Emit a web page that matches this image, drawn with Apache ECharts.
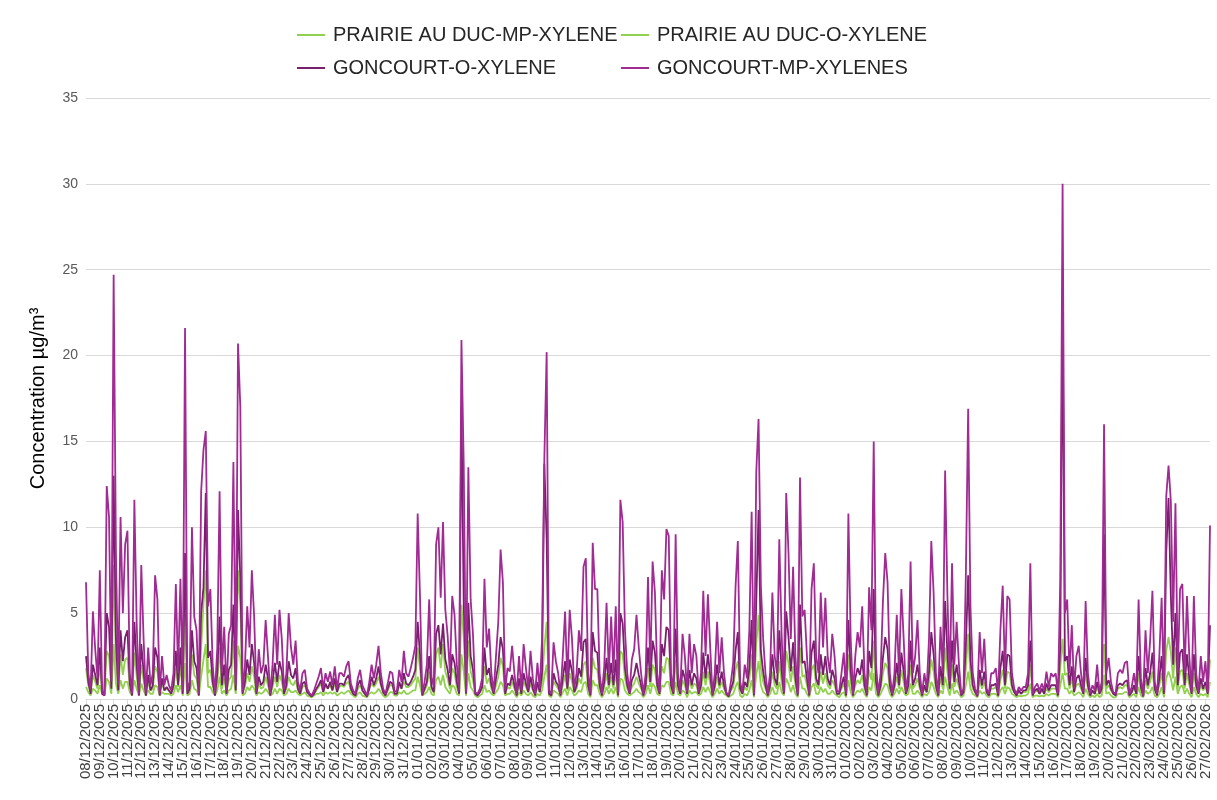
<!DOCTYPE html>
<html>
<head>
<meta charset="utf-8">
<script src="https://cdn.jsdelivr.net/npm/echarts@6/dist/echarts.min.js"></script>
<style>
  html, body { margin: 0; padding: 0; background: #ffffff; }
  #chart { width: 1217px; height: 800px; }
</style>
</head>
<body>
<div id="chart"></div>
<script>
// Daily tick labels (one label per day, six readings per day, every 4 hours)
const days = [
  '08/12/2025','09/12/2025','10/12/2025','11/12/2025','12/12/2025','13/12/2025','14/12/2025',
  '15/12/2025','16/12/2025','17/12/2025','18/12/2025','19/12/2025','20/12/2025','21/12/2025',
  '22/12/2025','23/12/2025','24/12/2025','25/12/2025','26/12/2025','27/12/2025','28/12/2025',
  '29/12/2025','30/12/2025','31/12/2025',
  '01/01/2026','02/01/2026','03/01/2026','04/01/2026','05/01/2026','06/01/2026','07/01/2026',
  '08/01/2026','09/01/2026','10/01/2026','11/01/2026','12/01/2026','13/01/2026','14/01/2026',
  '15/01/2026','16/01/2026','17/01/2026','18/01/2026','19/01/2026','20/01/2026','21/01/2026',
  '22/01/2026','23/01/2026','24/01/2026','25/01/2026','26/01/2026','27/01/2026','28/01/2026',
  '29/01/2026','30/01/2026','31/01/2026',
  '01/02/2026','02/02/2026','03/02/2026','04/02/2026','05/02/2026','06/02/2026','07/02/2026',
  '08/02/2026','09/02/2026','10/02/2026','11/02/2026','12/02/2026','13/02/2026','14/02/2026',
  '15/02/2026','16/02/2026','17/02/2026','18/02/2026','19/02/2026','20/02/2026','21/02/2026',
  '22/02/2026','23/02/2026','24/02/2026','25/02/2026','26/02/2026','27/02/2026'
];
const hours = ['00:00','04:00','08:00','12:00','16:00','20:00'];

const seriesNames = [
  'PRAIRIE AU DUC-MP-XYLENE',
  'PRAIRIE AU DUC-O-XYLENE',
  'GONCOURT-O-XYLENE',
  'GONCOURT-MP-XYLENES'
];

// Concentrations in µg/m3, one row per day
const prairieMP = [
  1.8,0.8,0.4,1.4,1.0,0.6, 1.9,0.5,0.3,2.8,2.5,0.6, 7.8,2.2,0.5,2.6,1.4,2.3, 2.4,0.7,0.3,2.7,1.3,0.3,
  2.0,1.1,0.3,1.0,0.5,0.6, 1.9,1.6,0.3,0.9,0.5,0.6, 0.5,0.4,0.6,1.8,0.7,1.9, 0.4,5.0,0.4,0.5,2.6,1.4,
  1.2,0.3,3.0,5.5,7.5,1.5, 1.7,0.8,0.3,1.0,3.0,0.6, 1.2,0.4,1.1,1.3,3.4,0.5, 7.5,5.6,0.4,0.7,1.5,1.0,
  1.9,1.3,0.3,0.9,0.6,0.7, 1.3,0.8,0.3,0.7,1.3,0.7, 1.4,1.0,0.4,0.6,1.3,0.9, 0.8,1.1,0.5,0.3,0.7,0.8,
  0.4,0.3,0.2,0.3,0.5,0.7, 0.9,0.4,0.8,0.6,0.8,0.5, 0.9,0.4,0.7,0.8,0.7,0.9, 1.0,0.5,0.3,0.2,0.6,0.8,
  0.5,0.3,0.2,0.6,0.9,0.7, 0.9,1.3,0.8,0.4,0.2,0.5, 0.8,0.8,0.3,0.3,0.8,0.6, 1.0,0.7,0.7,0.8,1.0,1.2,
  3.0,1.8,0.3,0.5,0.8,1.6, 0.6,0.4,2.6,3.0,1.8,3.2, 1.6,1.2,0.6,1.8,1.5,0.7, 0.3,5.5,3.6,0.3,3.4,1.6,
  1.1,0.3,0.3,0.4,0.6,1.9, 0.9,1.2,0.6,0.3,0.8,1.3, 2.4,1.9,0.3,0.7,0.6,1.0, 0.6,0.3,0.8,0.3,1.0,0.7,
  0.4,0.9,0.5,0.3,0.7,0.4, 1.0,3.0,4.5,0.3,0.3,1.0, 0.8,0.6,0.3,0.8,1.4,0.5, 1.5,1.0,0.4,0.6,1.2,0.9,
  2.0,2.2,0.6,0.3,2.4,1.8, 1.7,0.6,0.3,0.7,1.5,0.6, 1.3,0.6,1.5,0.3,2.8,2.6, 1.2,0.6,0.3,0.7,0.9,1.3,
  0.9,0.6,0.3,0.6,1.8,0.7, 2.0,1.7,0.6,0.3,1.9,1.5, 2.4,2.3,0.6,0.3,2.3,0.6, 0.3,1.1,0.8,0.3,1.1,0.6,
  0.9,0.8,0.3,0.6,1.6,0.8, 1.6,0.9,0.3,0.6,1.3,0.6, 1.0,0.6,0.3,0.2,0.5,0.7, 1.7,2.2,0.5,0.3,0.7,0.5,
  1.1,2.6,0.3,3.2,4.9,1.8, 1.0,0.6,0.3,0.6,1.6,0.8, 0.6,2.2,1.0,0.3,2.8,2.1, 1.0,1.9,0.8,0.3,3.0,1.3,
  1.4,0.8,0.3,1.7,2.0,0.8, 0.6,1.6,0.9,1.5,0.8,0.6, 1.1,0.8,0.3,0.3,0.6,0.9, 0.3,2.6,1.0,0.3,0.8,1.1,
  0.9,1.4,0.6,0.3,1.7,1.1, 3.4,0.7,0.3,0.6,1.5,2.1, 1.8,0.6,0.3,0.6,1.3,0.6, 1.7,1.0,0.3,0.6,2.0,0.6,
  0.8,1.2,0.6,0.3,0.6,0.4, 1.0,2.3,1.6,0.6,0.3,1.2, 0.6,3.0,1.6,0.5,2.0,0.7, 1.2,0.7,0.3,0.4,1.8,3.8,
  1.4,0.6,0.4,0.2,1.1,0.6, 1.0,0.4,0.3,0.6,0.6,0.7, 0.3,1.1,1.7,0.6,1.6,1.5, 0.6,0.4,0.3,0.4,0.3,0.4,
  0.4,0.6,2.0,0.3,0.4,0.5, 0.3,0.5,0.3,0.6,0.4,0.6, 0.6,0.6,0.3,1.8,3.5,1.4, 1.5,0.6,1.2,0.4,0.8,0.9,
  0.6,0.3,1.5,0.6,0.3,0.4, 0.3,0.7,0.3,0.5,3.2,0.6, 0.8,0.5,0.3,0.3,0.6,0.7, 0.6,0.8,0.8,0.3,0.4,0.6,
  0.3,1.5,0.5,0.2,1.1,0.6, 1.0,1.6,0.5,0.3,0.8,1.5, 0.3,2.8,3.6,2.7,1.2,3.0, 0.6,1.6,1.7,0.6,1.5,0.8,
  0.3,1.5,0.6,0.3,0.8,0.5, 0.7,0.3,2.3
];

const prairieO = [
  0.7,0.4,0.2,0.6,0.5,0.3, 0.8,0.3,0.2,1.2,1.0,0.3, 3.2,0.9,0.3,1.1,0.6,1.0, 1.0,0.4,0.2,1.1,0.6,0.2,
  0.9,0.5,0.2,0.5,0.3,0.3, 0.8,0.7,0.2,0.4,0.3,0.3, 0.3,0.2,0.3,0.8,0.4,0.8, 0.2,2.1,0.2,0.3,1.1,0.6,
  0.5,0.2,1.3,2.3,3.2,0.7, 0.7,0.4,0.2,0.5,1.3,0.3, 0.5,0.2,0.5,0.6,1.4,0.3, 3.1,2.4,0.2,0.3,0.7,0.5,
  0.8,0.6,0.2,0.4,0.3,0.4, 0.6,0.4,0.2,0.3,0.6,0.3, 0.6,0.5,0.2,0.3,0.6,0.4, 0.4,0.5,0.3,0.2,0.3,0.4,
  0.2,0.15,0.1,0.2,0.3,0.3, 0.4,0.2,0.4,0.3,0.4,0.3, 0.4,0.2,0.3,0.4,0.3,0.4, 0.5,0.3,0.2,0.1,0.3,0.4,
  0.2,0.15,0.1,0.3,0.4,0.3, 0.4,0.6,0.4,0.2,0.1,0.2, 0.4,0.4,0.2,0.2,0.4,0.3, 0.5,0.3,0.3,0.4,0.5,0.5,
  1.3,0.8,0.2,0.3,0.4,0.7, 0.3,0.2,1.1,1.3,0.8,1.4, 0.7,0.5,0.3,0.8,0.7,0.3, 0.2,2.6,1.6,0.2,1.5,0.7,
  0.5,0.2,0.1,0.2,0.3,0.8, 0.4,0.5,0.3,0.2,0.4,0.6, 1.0,0.8,0.2,0.3,0.3,0.5, 0.3,0.1,0.4,0.2,0.5,0.3,
  0.2,0.4,0.2,0.1,0.3,0.2, 0.5,1.3,2.0,0.2,0.1,0.5, 0.4,0.3,0.1,0.4,0.6,0.2, 0.7,0.5,0.2,0.3,0.5,0.4,
  0.9,1.0,0.3,0.1,1.1,0.8, 0.8,0.3,0.1,0.3,0.7,0.3, 0.6,0.3,0.7,0.1,1.2,1.1, 0.5,0.3,0.2,0.3,0.4,0.6,
  0.4,0.3,0.1,0.3,0.8,0.3, 0.9,0.7,0.3,0.2,0.8,0.7, 1.0,1.0,0.3,0.2,1.0,0.3, 0.2,0.5,0.4,0.1,0.5,0.3,
  0.4,0.4,0.2,0.3,0.7,0.4, 0.7,0.4,0.1,0.3,0.6,0.3, 0.5,0.3,0.2,0.1,0.2,0.3, 0.7,1.0,0.2,0.1,0.3,0.2,
  0.5,1.1,0.1,1.4,2.2,0.8, 0.4,0.3,0.1,0.3,0.7,0.3, 0.3,1.0,0.4,0.2,1.2,0.9, 0.4,0.8,0.3,0.1,1.3,0.6,
  0.6,0.3,0.1,0.7,0.9,0.3, 0.3,0.7,0.4,0.6,0.3,0.3, 0.5,0.3,0.2,0.1,0.3,0.4, 0.1,1.1,0.4,0.1,0.3,0.5,
  0.4,0.6,0.3,0.1,0.7,0.5, 1.5,0.3,0.1,0.3,0.6,0.9, 0.8,0.3,0.1,0.3,0.6,0.3, 0.7,0.4,0.2,0.3,0.9,0.3,
  0.3,0.5,0.3,0.1,0.3,0.2, 0.4,1.0,0.7,0.3,0.1,0.5, 0.3,1.3,0.7,0.2,0.9,0.3, 0.5,0.3,0.1,0.2,0.8,1.6,
  0.6,0.3,0.2,0.1,0.5,0.3, 0.4,0.2,0.1,0.3,0.3,0.3, 0.1,0.5,0.7,0.3,0.7,0.6, 0.3,0.2,0.1,0.2,0.15,0.2,
  0.2,0.3,0.9,0.1,0.2,0.2, 0.15,0.2,0.15,0.3,0.2,0.3, 0.3,0.3,0.1,0.8,1.5,0.6, 0.6,0.3,0.5,0.2,0.3,0.4,
  0.3,0.1,0.6,0.3,0.1,0.2, 0.1,0.3,0.1,0.2,1.4,0.3, 0.4,0.2,0.1,0.1,0.3,0.3, 0.3,0.4,0.4,0.1,0.2,0.3,
  0.1,0.7,0.2,0.1,0.5,0.3, 0.4,0.7,0.2,0.1,0.3,0.7, 0.1,1.2,1.6,1.2,0.5,1.3, 0.3,0.7,0.8,0.3,0.6,0.3,
  0.1,0.7,0.3,0.1,0.3,0.2, 0.3,0.1,1.0
];

const goncourtO = [
  2.5,1.0,0.3,2.0,1.4,0.8, 3.0,0.3,0.2,5.0,4.2,0.6, 13.0,3.5,0.5,4.0,2.2,3.6, 4.0,0.9,0.2,4.5,2.0,0.2,
  3.2,1.6,0.2,1.4,0.5,0.8, 3.0,2.4,0.2,1.2,0.5,0.7, 0.5,0.3,0.8,2.8,0.8,3.0, 0.3,8.5,0.3,0.6,4.0,2.2,
  1.8,0.2,5.0,6.5,12.0,2.4, 2.8,1.0,0.2,1.5,4.8,0.8, 2.0,0.3,1.7,2.0,5.5,0.5, 11.0,7.0,0.3,1.0,2.3,1.4,
  3.2,2.1,0.3,1.3,0.8,1.0, 2.0,1.2,0.2,1.0,2.1,1.0, 2.2,1.6,0.3,0.8,2.2,1.4, 1.2,1.8,0.6,0.3,0.9,1.0,
  0.4,0.25,0.15,0.3,0.6,0.8, 1.1,0.4,0.9,0.6,1.0,0.5, 1.2,0.4,0.9,0.9,0.8,1.2, 1.4,0.6,0.3,0.2,0.8,1.1,
  0.5,0.3,0.15,0.6,1.3,0.8, 1.2,1.9,0.9,0.4,0.2,0.6, 1.0,0.9,0.3,0.3,1.0,0.6, 1.5,0.9,0.8,1.0,1.3,1.7,
  4.5,2.6,0.2,0.6,1.0,2.5, 0.7,0.4,3.8,4.3,2.6,4.4, 2.3,1.7,0.8,2.6,2.1,1.0, 0.3,17.0,5.5,0.3,5.6,2.5,
  1.7,0.3,0.2,0.4,0.7,3.0, 1.4,1.8,0.8,0.3,1.2,2.0, 3.6,2.9,0.3,0.9,0.8,1.4, 0.8,0.2,1.2,0.3,1.5,0.9,
  0.4,1.3,0.6,0.2,1.0,0.4, 1.5,13.7,9.3,0.3,0.2,1.5, 1.0,0.8,0.2,1.2,2.2,0.6, 2.3,1.6,0.4,0.8,1.8,1.3,
  3.3,3.5,0.8,0.2,3.9,2.8, 2.7,0.8,0.2,1.0,2.4,0.8, 2.1,0.8,2.3,0.2,5.0,4.4, 1.8,0.8,0.3,1.1,1.4,2.1,
  1.4,0.8,0.2,0.8,3.0,1.0, 3.4,2.7,0.8,0.3,3.2,2.5, 4.2,4.0,0.8,0.3,4.1,0.8, 0.3,1.7,1.2,0.3,1.7,0.8,
  1.5,1.2,0.3,0.8,2.7,1.2, 2.6,1.4,0.2,0.8,2.0,0.8, 1.6,0.8,0.3,0.15,0.6,1.0, 2.8,3.9,0.6,0.3,1.0,0.7,
  1.8,4.6,0.2,5.6,11.0,2.8, 1.6,0.8,0.2,0.8,2.6,1.2, 0.8,4.0,1.7,0.3,5.1,3.6, 1.6,3.3,1.2,0.2,5.5,2.1,
  2.2,1.2,0.2,2.7,3.4,1.2, 0.8,2.6,1.4,2.5,1.2,0.8, 1.7,1.2,0.3,0.3,0.8,1.3, 0.2,4.6,1.6,0.2,1.2,1.8,
  1.4,2.3,0.8,0.2,2.8,1.8, 6.4,1.0,0.2,0.8,2.4,3.6, 2.9,0.8,0.2,0.8,2.1,0.8, 2.7,1.6,0.3,0.8,3.4,0.8,
  1.2,2.0,0.8,0.2,0.8,0.4, 1.6,3.9,2.6,0.8,0.2,1.9, 0.8,5.7,2.6,0.6,3.4,1.0, 2.0,1.0,0.2,0.4,3.1,7.2,
  2.3,0.8,0.4,0.15,1.7,0.8, 1.6,0.4,0.2,0.8,0.8,0.9, 0.2,1.8,2.8,0.8,2.6,2.5, 0.8,0.4,0.2,0.5,0.3,0.5,
  0.5,0.8,3.4,0.2,0.5,0.6, 0.3,0.6,0.3,0.9,0.5,0.8, 0.8,0.8,0.2,3.0,23.0,2.2, 2.5,0.8,1.9,0.4,1.2,1.4,
  0.8,0.3,2.4,0.8,0.2,0.5, 0.3,1.0,0.3,0.6,9.6,0.8, 1.1,0.6,0.3,0.2,0.8,0.9, 0.8,1.0,1.1,0.2,0.4,0.8,
  0.3,2.5,0.7,0.15,1.8,0.8, 1.5,2.7,0.6,0.2,1.2,2.5, 0.3,8.5,11.7,6.0,2.0,5.0, 0.8,2.7,2.9,0.8,2.6,1.2,
  0.3,2.6,0.8,0.3,1.2,0.6, 1.0,0.3,4.3
];

const goncourtMP = [
  6.8,1.5,0.5,5.1,2.9,1.2, 7.5,0.5,0.2,12.4,10.6,1.0, 24.7,8.5,0.8,10.6,5.0,9.0, 9.8,1.5,0.3,11.6,4.4,0.3,
  7.8,3.5,0.3,3.0,0.8,1.5, 7.2,5.8,0.3,2.5,0.8,1.4, 0.8,0.5,1.5,6.7,1.5,7.0, 0.5,21.6,0.5,1.0,10.0,4.8,
  4.0,0.3,12.1,14.5,15.6,5.4, 6.4,2.0,0.3,3.0,12.1,1.5, 4.2,0.5,3.8,4.3,13.8,0.8, 20.7,17.0,0.4,1.9,5.4,3.0,
  7.5,4.8,0.4,2.9,1.5,2.0, 4.6,2.5,0.3,2.0,4.9,2.0, 5.2,3.5,0.5,1.5,5.0,3.0, 2.0,3.4,1.0,0.5,1.5,1.7,
  0.6,0.35,0.2,0.5,0.9,1.3, 1.8,0.6,1.5,1.0,1.6,0.8, 1.9,0.6,1.5,1.5,1.3,1.9, 2.2,0.9,0.5,0.3,1.2,1.7,
  0.8,0.5,0.2,1.0,2.0,1.2, 2.0,3.1,1.5,0.6,0.3,0.9, 1.6,1.5,0.4,0.5,1.7,1.0, 2.8,1.5,1.3,1.8,2.4,3.1,
  10.8,6.0,0.3,1.0,2.0,5.8, 1.3,0.7,9.0,10.0,5.9,10.3, 5.2,3.7,1.5,6.0,4.9,2.0, 0.5,20.9,13.6,0.4,13.5,5.8,
  3.8,0.4,0.3,0.6,1.2,7.0, 3.0,4.1,1.5,0.4,2.5,4.5, 8.7,6.8,0.5,1.8,1.6,3.1, 1.5,0.3,2.5,0.5,3.2,1.8,
  0.6,2.8,1.2,0.3,2.1,0.6, 3.5,14.0,20.2,0.5,0.3,3.3, 2.2,1.5,0.3,2.5,5.1,1.0, 5.2,3.5,0.6,1.5,4.0,2.8,
  7.7,8.2,1.5,0.3,9.1,6.4, 6.4,1.5,0.3,1.9,5.6,1.5, 4.8,1.5,5.4,0.3,11.6,10.3, 4.0,1.5,0.4,2.3,2.9,4.9,
  3.0,1.5,0.3,1.5,7.1,1.8, 8.0,6.2,1.5,0.4,7.5,5.8, 9.9,9.5,1.5,0.4,9.6,1.5, 0.4,3.8,2.5,0.4,3.8,1.5,
  3.2,2.5,0.4,1.5,6.3,2.5, 6.1,3.0,0.3,1.5,4.5,1.5, 3.6,1.5,0.4,0.2,1.0,2.1, 6.5,9.2,1.0,0.4,2.0,1.2,
  4.0,10.9,0.3,13.2,16.3,6.6, 3.5,1.5,0.3,1.5,6.2,2.5, 1.5,9.3,3.8,0.4,12.0,8.5, 3.5,7.7,2.5,0.3,12.9,4.8,
  5.2,2.5,0.3,6.4,7.9,2.5, 1.5,6.2,3.0,5.9,2.5,1.5, 3.8,2.5,0.5,0.4,1.5,2.7, 0.3,10.8,3.5,0.3,2.5,3.9,
  3.0,5.4,1.5,0.3,6.5,4.0, 15.0,2.0,0.3,1.5,5.7,8.5, 6.8,1.5,0.3,1.5,4.9,1.5, 6.4,3.5,0.4,1.5,8.0,1.5,
  2.5,4.6,1.5,0.3,1.5,0.6, 3.5,9.2,6.2,1.5,0.3,4.2, 1.5,13.3,6.0,1.0,7.9,2.0, 4.5,2.0,0.3,0.6,7.2,16.9,
  5.4,1.5,0.6,0.2,3.9,1.5, 3.5,0.6,0.3,1.5,1.5,1.8, 0.3,4.0,6.6,1.5,6.0,5.8, 1.5,0.6,0.3,0.7,0.5,0.7,
  0.7,1.5,7.9,0.3,0.7,0.9, 0.5,0.9,0.5,1.6,0.7,1.5, 1.3,1.5,0.3,7.0,30.0,5.0, 5.8,1.5,4.3,0.6,2.5,3.1,
  1.5,0.4,5.7,1.5,0.3,0.8, 0.5,2.0,0.4,1.0,16.0,1.5, 2.4,1.0,0.4,0.3,1.5,1.7, 1.5,2.1,2.2,0.3,0.7,1.5,
  0.5,5.8,1.2,0.2,4.0,1.5, 3.4,6.3,1.0,0.3,2.5,5.9, 0.5,11.8,13.6,11.5,4.5,11.4, 1.5,6.4,6.7,1.5,6.0,2.5,
  0.4,6.0,1.5,0.4,2.5,1.0, 2.2,0.4,10.1
];

const yTicks = { min: 0, max: 35, step: 5 };
const colors = ['#92D050', '#92D050', '#78206E', '#A02B93'];

// One category per reading: "dd/mm/yyyy hh:mm"
const categories = [];
for (const d of days) {
  for (const h of hours) {
    if (categories.length < goncourtMP.length) categories.push(d + ' ' + h);
  }
}

const values = [prairieMP, prairieO, goncourtO, goncourtMP];
const perDay = hours.length;
const onDayStart = (index) => index % perDay === 0;
// Day labels are split over two stacked axes (even / odd days) so that
// neighbouring labels never collide and every date stays visible.
const onDayParity = (parity) => (index) => onDayStart(index) && (index / perDay) % 2 === parity;

const textFont = '"Liberation Sans", Arial, sans-serif';

// Legend laid out on a 2 x 2 grid
const legendSlots = [
  { left: 297, top: 25 },
  { left: 621, top: 25 },
  { left: 297, top: 58 },
  { left: 621, top: 58 }
];

function dayAxis(parity) {
  return {
    type: 'category',
    position: 'bottom',
    data: categories,
    boundaryGap: false,
    axisLine: { show: parity === 0, onZero: false, lineStyle: { color: '#d9d9d9', width: 1 } },
    axisTick: { show: parity === 0, interval: (i) => onDayStart(i), length: 5, lineStyle: { color: '#d9d9d9' } },
    axisLabel: {
      interval: onDayParity(parity),
      formatter: (v) => v.slice(0, 10),
      rotate: 90,
      fontSize: 15,
      color: '#404040',
      margin: 5,
      showMinLabel: true,
      showMaxLabel: true,
      hideOverlap: false,
      fontFamily: textFont
    },
    splitLine: { show: false }
  };
}

const chart = echarts.init(document.getElementById('chart'), null, { renderer: 'canvas' });

chart.setOption({
  backgroundColor: '#ffffff',
  animation: false,
  textStyle: { fontFamily: textFont },
  legend: seriesNames.map((name, k) => ({
    data: [name],
    left: legendSlots[k].left,
    top: legendSlots[k].top,
    padding: 0,
    icon: 'rect',
    itemWidth: 28,
    itemHeight: 2,
    selectedMode: false,
    textStyle: { fontSize: 20, color: '#262626', fontFamily: textFont, padding: [0, 0, 0, 3] }
  })),
  grid: { left: 86, right: 7, top: 98, bottom: 101, containLabel: false },
  xAxis: [dayAxis(0), dayAxis(1)],
  yAxis: {
    type: 'value',
    min: yTicks.min,
    max: yTicks.max,
    interval: yTicks.step,
    name: 'Concentration µg/m³',
    nameLocation: 'middle',
    nameGap: 38,
    nameTextStyle: { fontSize: 20, color: '#000000', fontFamily: textFont },
    axisLine: { show: false },
    axisTick: { show: false },
    axisLabel: { fontSize: 14, color: '#595959', margin: 8, fontFamily: textFont },
    splitLine: { show: true, lineStyle: { color: '#d9d9d9', width: 1 } }
  },
  series: seriesNames.map((name, s) => ({
    name: name,
    type: 'line',
    xAxisIndex: 0,
    data: values[s],
    showSymbol: false,
    symbol: 'none',
    smooth: false,
    lineStyle: { color: colors[s], width: 1.8 },
    itemStyle: { color: colors[s] },
    emphasis: { disabled: true }
  }))
});
</script>
</body>
</html>
